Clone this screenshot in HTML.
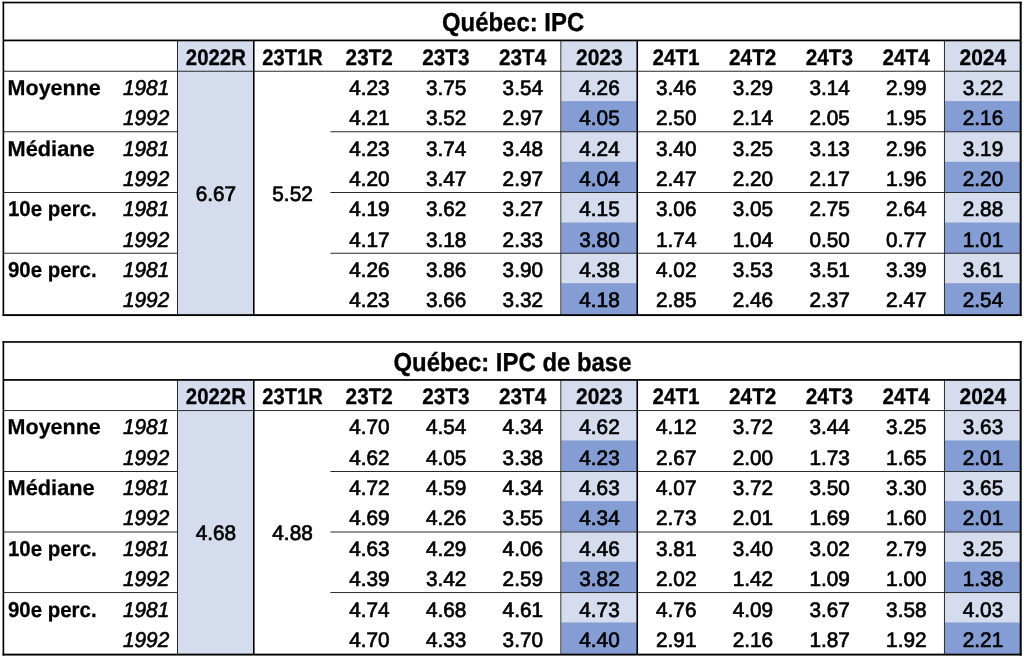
<!DOCTYPE html>
<html lang="fr"><head><meta charset="utf-8"><title>Québec: IPC</title>
<style>
html,body{margin:0;padding:0;background:#fff;}
body{width:1024px;height:658px;overflow:hidden;}
svg{display:block;will-change:transform;}
text{font-family:'Liberation Sans', sans-serif;fill:#000;text-rendering:geometricPrecision;}
.n{font-size:21.1px;text-anchor:middle;stroke:#000;stroke-width:0.7px;}
.h{font-size:22.5px;font-weight:bold;text-anchor:middle;stroke:#000;stroke-width:0.3px;}
.l{font-size:21.5px;font-weight:bold;text-anchor:start;stroke:#000;stroke-width:0.25px;}
.i{font-size:21.4px;font-style:italic;text-anchor:end;stroke:#000;stroke-width:0.62px;}
.t{font-size:26.0px;font-weight:bold;text-anchor:middle;stroke:#000;stroke-width:0.35px;}
</style></head><body>
<svg width="1024" height="658" viewBox="0 0 1024 658">
<rect x="0" y="0" width="1024" height="658" fill="#fff"/>
<g>
<rect x="177.95" y="40.43" width="76.25" height="274.02" fill="#D4DCEE"/>
<rect x="561.42" y="40.43" width="76.25" height="274.02" fill="#D4DCEE"/>
<rect x="944.9" y="40.43" width="75.8" height="274.02" fill="#D4DCEE"/>
<rect x="561.42" y="101.14" width="76.25" height="30.74" fill="#859DD5"/>
<rect x="561.42" y="161.82" width="76.25" height="30.74" fill="#859DD5"/>
<rect x="561.42" y="222.5" width="76.25" height="30.74" fill="#859DD5"/>
<rect x="561.42" y="283.18" width="76.25" height="31.27" fill="#859DD5"/>
<rect x="944.9" y="101.14" width="75.8" height="30.74" fill="#859DD5"/>
<rect x="944.9" y="161.82" width="75.8" height="30.74" fill="#859DD5"/>
<rect x="944.9" y="222.5" width="75.8" height="30.74" fill="#859DD5"/>
<rect x="944.9" y="283.18" width="75.8" height="31.27" fill="#859DD5"/>
<rect x="3.38" y="70.75" width="1017.32" height="1" fill="#2a2a2a"/>
<rect x="3.38" y="131.25" width="174.12" height="1" fill="#2a2a2a"/>
<rect x="330.39" y="131.25" width="690.31" height="1" fill="#2a2a2a"/>
<rect x="3.38" y="192" width="174.12" height="1" fill="#2a2a2a"/>
<rect x="330.39" y="192" width="690.31" height="1" fill="#2a2a2a"/>
<rect x="3.38" y="252.75" width="174.12" height="1" fill="#2a2a2a"/>
<rect x="330.39" y="252.75" width="690.31" height="1" fill="#2a2a2a"/>
<rect x="177" y="40.43" width="1" height="274.02" fill="#2a2a2a"/>
<rect x="560.35" y="40.43" width="1" height="274.02" fill="#2a2a2a"/>
<rect x="943.95" y="40.43" width="1" height="274.02" fill="#2a2a2a"/>
<rect x="252.99" y="40.43" width="1.58" height="274.02" fill="#000"/>
<rect x="636.46" y="40.43" width="1.58" height="274.02" fill="#000"/>
<rect x="3.38" y="39.56" width="1017.32" height="1.73" fill="#000"/>
<rect x="2.55" y="1.7" width="1.65" height="314.35" fill="#000"/>
<rect x="1019.7" y="1.7" width="2" height="314.35" fill="#000"/>
<rect x="2.55" y="1.7" width="1019.15" height="1.65" fill="#000"/>
<rect x="2.55" y="314.15" width="1019.15" height="1.9" fill="#000"/>
<text class="t" transform="translate(513.1,31.3) scale(0.92,1)">Québec: IPC</text>
<text class="h" transform="translate(215.85,64.8) scale(0.905,1)">2022R</text>
<text class="h" transform="translate(292.54,64.8) scale(0.894,1)">23T1R</text>
<text class="h" transform="translate(369.24,64.8) scale(0.921,1)">23T2</text>
<text class="h" transform="translate(445.93,64.8) scale(0.921,1)">23T3</text>
<text class="h" transform="translate(522.63,64.8) scale(0.921,1)">23T4</text>
<text class="h" transform="translate(599.32,64.8) scale(0.932,1)">2023</text>
<text class="h" transform="translate(676.02,64.8) scale(0.921,1)">24T1</text>
<text class="h" transform="translate(752.71,64.8) scale(0.921,1)">24T2</text>
<text class="h" transform="translate(829.41,64.8) scale(0.921,1)">24T3</text>
<text class="h" transform="translate(906.1,64.8) scale(0.921,1)">24T4</text>
<text class="h" transform="translate(982.8,64.8) scale(0.932,1)">2024</text>
<text class="l" transform="translate(7.6,95.01) scale(1,1)">Moyenne</text>
<text class="l" transform="translate(7.6,155.73) scale(1.012,1)">Médiane</text>
<text class="l" transform="translate(7.9,216.45) scale(0.953,1)">10e perc.</text>
<text class="l" transform="translate(8,277.17) scale(0.95,1)">90e perc.</text>
<text class="i" transform="translate(169.2,94.96) scale(0.972,1)">1981</text>
<text class="n" transform="translate(369.44,94.96) scale(0.985,1)">4.23</text>
<text class="n" transform="translate(446.13,94.96) scale(0.985,1)">3.75</text>
<text class="n" transform="translate(522.83,94.96) scale(0.985,1)">3.54</text>
<text class="n" transform="translate(599.52,94.96) scale(0.985,1)">4.26</text>
<text class="n" transform="translate(676.22,94.96) scale(0.985,1)">3.46</text>
<text class="n" transform="translate(752.91,94.96) scale(0.985,1)">3.29</text>
<text class="n" transform="translate(829.61,94.96) scale(0.985,1)">3.14</text>
<text class="n" transform="translate(906.3,94.96) scale(0.985,1)">2.99</text>
<text class="n" transform="translate(983,94.96) scale(0.985,1)">3.22</text>
<text class="i" transform="translate(169.2,125.32) scale(0.972,1)">1992</text>
<text class="n" transform="translate(369.44,125.32) scale(0.985,1)">4.21</text>
<text class="n" transform="translate(446.13,125.32) scale(0.985,1)">3.52</text>
<text class="n" transform="translate(522.83,125.32) scale(0.985,1)">2.97</text>
<text class="n" transform="translate(599.52,125.32) scale(0.985,1)">4.05</text>
<text class="n" transform="translate(676.22,125.32) scale(0.985,1)">2.50</text>
<text class="n" transform="translate(752.91,125.32) scale(0.985,1)">2.14</text>
<text class="n" transform="translate(829.61,125.32) scale(0.985,1)">2.05</text>
<text class="n" transform="translate(906.3,125.32) scale(0.985,1)">1.95</text>
<text class="n" transform="translate(983,125.32) scale(0.985,1)">2.16</text>
<text class="i" transform="translate(169.2,155.68) scale(0.972,1)">1981</text>
<text class="n" transform="translate(369.44,155.68) scale(0.985,1)">4.23</text>
<text class="n" transform="translate(446.13,155.68) scale(0.985,1)">3.74</text>
<text class="n" transform="translate(522.83,155.68) scale(0.985,1)">3.48</text>
<text class="n" transform="translate(599.52,155.68) scale(0.985,1)">4.24</text>
<text class="n" transform="translate(676.22,155.68) scale(0.985,1)">3.40</text>
<text class="n" transform="translate(752.91,155.68) scale(0.985,1)">3.25</text>
<text class="n" transform="translate(829.61,155.68) scale(0.985,1)">3.13</text>
<text class="n" transform="translate(906.3,155.68) scale(0.985,1)">2.96</text>
<text class="n" transform="translate(983,155.68) scale(0.985,1)">3.19</text>
<text class="i" transform="translate(169.2,186.04) scale(0.972,1)">1992</text>
<text class="n" transform="translate(369.44,186.04) scale(0.985,1)">4.20</text>
<text class="n" transform="translate(446.13,186.04) scale(0.985,1)">3.47</text>
<text class="n" transform="translate(522.83,186.04) scale(0.985,1)">2.97</text>
<text class="n" transform="translate(599.52,186.04) scale(0.985,1)">4.04</text>
<text class="n" transform="translate(676.22,186.04) scale(0.985,1)">2.47</text>
<text class="n" transform="translate(752.91,186.04) scale(0.985,1)">2.20</text>
<text class="n" transform="translate(829.61,186.04) scale(0.985,1)">2.17</text>
<text class="n" transform="translate(906.3,186.04) scale(0.985,1)">1.96</text>
<text class="n" transform="translate(983,186.04) scale(0.985,1)">2.20</text>
<text class="i" transform="translate(169.2,216.4) scale(0.972,1)">1981</text>
<text class="n" transform="translate(369.44,216.4) scale(0.985,1)">4.19</text>
<text class="n" transform="translate(446.13,216.4) scale(0.985,1)">3.62</text>
<text class="n" transform="translate(522.83,216.4) scale(0.985,1)">3.27</text>
<text class="n" transform="translate(599.52,216.4) scale(0.985,1)">4.15</text>
<text class="n" transform="translate(676.22,216.4) scale(0.985,1)">3.06</text>
<text class="n" transform="translate(752.91,216.4) scale(0.985,1)">3.05</text>
<text class="n" transform="translate(829.61,216.4) scale(0.985,1)">2.75</text>
<text class="n" transform="translate(906.3,216.4) scale(0.985,1)">2.64</text>
<text class="n" transform="translate(983,216.4) scale(0.985,1)">2.88</text>
<text class="i" transform="translate(169.2,246.76) scale(0.972,1)">1992</text>
<text class="n" transform="translate(369.44,246.76) scale(0.985,1)">4.17</text>
<text class="n" transform="translate(446.13,246.76) scale(0.985,1)">3.18</text>
<text class="n" transform="translate(522.83,246.76) scale(0.985,1)">2.33</text>
<text class="n" transform="translate(599.52,246.76) scale(0.985,1)">3.80</text>
<text class="n" transform="translate(676.22,246.76) scale(0.985,1)">1.74</text>
<text class="n" transform="translate(752.91,246.76) scale(0.985,1)">1.04</text>
<text class="n" transform="translate(829.61,246.76) scale(0.985,1)">0.50</text>
<text class="n" transform="translate(906.3,246.76) scale(0.985,1)">0.77</text>
<text class="n" transform="translate(983,246.76) scale(0.985,1)">1.01</text>
<text class="i" transform="translate(169.2,277.12) scale(0.972,1)">1981</text>
<text class="n" transform="translate(369.44,277.12) scale(0.985,1)">4.26</text>
<text class="n" transform="translate(446.13,277.12) scale(0.985,1)">3.86</text>
<text class="n" transform="translate(522.83,277.12) scale(0.985,1)">3.90</text>
<text class="n" transform="translate(599.52,277.12) scale(0.985,1)">4.38</text>
<text class="n" transform="translate(676.22,277.12) scale(0.985,1)">4.02</text>
<text class="n" transform="translate(752.91,277.12) scale(0.985,1)">3.53</text>
<text class="n" transform="translate(829.61,277.12) scale(0.985,1)">3.51</text>
<text class="n" transform="translate(906.3,277.12) scale(0.985,1)">3.39</text>
<text class="n" transform="translate(983,277.12) scale(0.985,1)">3.61</text>
<text class="i" transform="translate(169.2,307.48) scale(0.972,1)">1992</text>
<text class="n" transform="translate(369.44,307.48) scale(0.985,1)">4.23</text>
<text class="n" transform="translate(446.13,307.48) scale(0.985,1)">3.66</text>
<text class="n" transform="translate(522.83,307.48) scale(0.985,1)">3.32</text>
<text class="n" transform="translate(599.52,307.48) scale(0.985,1)">4.18</text>
<text class="n" transform="translate(676.22,307.48) scale(0.985,1)">2.85</text>
<text class="n" transform="translate(752.91,307.48) scale(0.985,1)">2.46</text>
<text class="n" transform="translate(829.61,307.48) scale(0.985,1)">2.37</text>
<text class="n" transform="translate(906.3,307.48) scale(0.985,1)">2.47</text>
<text class="n" transform="translate(983,307.48) scale(0.985,1)">2.54</text>
<text class="n" transform="translate(215.85,200.79) scale(0.985,1)">6.67</text>
<text class="n" transform="translate(292.54,200.79) scale(0.985,1)">5.52</text>
</g>
<g>
<rect x="177.95" y="379.92" width="76.25" height="274.03" fill="#D4DCEE"/>
<rect x="561.42" y="379.92" width="76.25" height="274.03" fill="#D4DCEE"/>
<rect x="944.9" y="379.92" width="75.8" height="274.03" fill="#D4DCEE"/>
<rect x="561.42" y="440.44" width="76.25" height="30.74" fill="#859DD5"/>
<rect x="561.42" y="501.12" width="76.25" height="30.74" fill="#859DD5"/>
<rect x="561.42" y="561.8" width="76.25" height="30.74" fill="#859DD5"/>
<rect x="561.42" y="622.48" width="76.25" height="31.47" fill="#859DD5"/>
<rect x="944.9" y="440.44" width="75.8" height="30.74" fill="#859DD5"/>
<rect x="944.9" y="501.12" width="75.8" height="30.74" fill="#859DD5"/>
<rect x="944.9" y="561.8" width="75.8" height="30.74" fill="#859DD5"/>
<rect x="944.9" y="622.48" width="75.8" height="31.47" fill="#859DD5"/>
<rect x="3.38" y="410.05" width="1017.32" height="1" fill="#2a2a2a"/>
<rect x="3.38" y="471" width="174.12" height="1" fill="#2a2a2a"/>
<rect x="330.39" y="471" width="690.31" height="1" fill="#2a2a2a"/>
<rect x="3.38" y="531.5" width="174.12" height="1" fill="#2a2a2a"/>
<rect x="330.39" y="531.5" width="690.31" height="1" fill="#2a2a2a"/>
<rect x="3.38" y="592.05" width="174.12" height="1" fill="#2a2a2a"/>
<rect x="330.39" y="592.05" width="690.31" height="1" fill="#2a2a2a"/>
<rect x="177" y="379.92" width="1" height="274.03" fill="#2a2a2a"/>
<rect x="560.35" y="379.92" width="1" height="274.03" fill="#2a2a2a"/>
<rect x="943.95" y="379.92" width="1" height="274.03" fill="#2a2a2a"/>
<rect x="252.99" y="379.92" width="1.58" height="274.03" fill="#000"/>
<rect x="636.46" y="379.92" width="1.58" height="274.03" fill="#000"/>
<rect x="3.38" y="379.06" width="1017.32" height="1.73" fill="#000"/>
<rect x="2.55" y="341.13" width="1.65" height="314.42" fill="#000"/>
<rect x="1019.7" y="341.13" width="2" height="314.42" fill="#000"/>
<rect x="2.55" y="341.12" width="1019.15" height="1.65" fill="#000"/>
<rect x="2.55" y="653.65" width="1019.15" height="1.9" fill="#000"/>
<text class="t" transform="translate(512.5,370.75) scale(0.92,1)">Québec: IPC de base</text>
<text class="h" transform="translate(215.85,404.25) scale(0.905,1)">2022R</text>
<text class="h" transform="translate(292.54,404.25) scale(0.894,1)">23T1R</text>
<text class="h" transform="translate(369.24,404.25) scale(0.921,1)">23T2</text>
<text class="h" transform="translate(445.93,404.25) scale(0.921,1)">23T3</text>
<text class="h" transform="translate(522.63,404.25) scale(0.921,1)">23T4</text>
<text class="h" transform="translate(599.32,404.25) scale(0.932,1)">2023</text>
<text class="h" transform="translate(676.02,404.25) scale(0.921,1)">24T1</text>
<text class="h" transform="translate(752.71,404.25) scale(0.921,1)">24T2</text>
<text class="h" transform="translate(829.41,404.25) scale(0.921,1)">24T3</text>
<text class="h" transform="translate(906.1,404.25) scale(0.921,1)">24T4</text>
<text class="h" transform="translate(982.8,404.25) scale(0.932,1)">2024</text>
<text class="l" transform="translate(7.6,434.46) scale(1,1)">Moyenne</text>
<text class="l" transform="translate(7.6,495.18) scale(1.012,1)">Médiane</text>
<text class="l" transform="translate(7.9,555.9) scale(0.953,1)">10e perc.</text>
<text class="l" transform="translate(8,616.62) scale(0.95,1)">90e perc.</text>
<text class="i" transform="translate(169.2,434.41) scale(0.972,1)">1981</text>
<text class="n" transform="translate(369.44,434.41) scale(0.985,1)">4.70</text>
<text class="n" transform="translate(446.13,434.41) scale(0.985,1)">4.54</text>
<text class="n" transform="translate(522.83,434.41) scale(0.985,1)">4.34</text>
<text class="n" transform="translate(599.52,434.41) scale(0.985,1)">4.62</text>
<text class="n" transform="translate(676.22,434.41) scale(0.985,1)">4.12</text>
<text class="n" transform="translate(752.91,434.41) scale(0.985,1)">3.72</text>
<text class="n" transform="translate(829.61,434.41) scale(0.985,1)">3.44</text>
<text class="n" transform="translate(906.3,434.41) scale(0.985,1)">3.25</text>
<text class="n" transform="translate(983,434.41) scale(0.985,1)">3.63</text>
<text class="i" transform="translate(169.2,464.77) scale(0.972,1)">1992</text>
<text class="n" transform="translate(369.44,464.77) scale(0.985,1)">4.62</text>
<text class="n" transform="translate(446.13,464.77) scale(0.985,1)">4.05</text>
<text class="n" transform="translate(522.83,464.77) scale(0.985,1)">3.38</text>
<text class="n" transform="translate(599.52,464.77) scale(0.985,1)">4.23</text>
<text class="n" transform="translate(676.22,464.77) scale(0.985,1)">2.67</text>
<text class="n" transform="translate(752.91,464.77) scale(0.985,1)">2.00</text>
<text class="n" transform="translate(829.61,464.77) scale(0.985,1)">1.73</text>
<text class="n" transform="translate(906.3,464.77) scale(0.985,1)">1.65</text>
<text class="n" transform="translate(983,464.77) scale(0.985,1)">2.01</text>
<text class="i" transform="translate(169.2,495.13) scale(0.972,1)">1981</text>
<text class="n" transform="translate(369.44,495.13) scale(0.985,1)">4.72</text>
<text class="n" transform="translate(446.13,495.13) scale(0.985,1)">4.59</text>
<text class="n" transform="translate(522.83,495.13) scale(0.985,1)">4.34</text>
<text class="n" transform="translate(599.52,495.13) scale(0.985,1)">4.63</text>
<text class="n" transform="translate(676.22,495.13) scale(0.985,1)">4.07</text>
<text class="n" transform="translate(752.91,495.13) scale(0.985,1)">3.72</text>
<text class="n" transform="translate(829.61,495.13) scale(0.985,1)">3.50</text>
<text class="n" transform="translate(906.3,495.13) scale(0.985,1)">3.30</text>
<text class="n" transform="translate(983,495.13) scale(0.985,1)">3.65</text>
<text class="i" transform="translate(169.2,525.49) scale(0.972,1)">1992</text>
<text class="n" transform="translate(369.44,525.49) scale(0.985,1)">4.69</text>
<text class="n" transform="translate(446.13,525.49) scale(0.985,1)">4.26</text>
<text class="n" transform="translate(522.83,525.49) scale(0.985,1)">3.55</text>
<text class="n" transform="translate(599.52,525.49) scale(0.985,1)">4.34</text>
<text class="n" transform="translate(676.22,525.49) scale(0.985,1)">2.73</text>
<text class="n" transform="translate(752.91,525.49) scale(0.985,1)">2.01</text>
<text class="n" transform="translate(829.61,525.49) scale(0.985,1)">1.69</text>
<text class="n" transform="translate(906.3,525.49) scale(0.985,1)">1.60</text>
<text class="n" transform="translate(983,525.49) scale(0.985,1)">2.01</text>
<text class="i" transform="translate(169.2,555.85) scale(0.972,1)">1981</text>
<text class="n" transform="translate(369.44,555.85) scale(0.985,1)">4.63</text>
<text class="n" transform="translate(446.13,555.85) scale(0.985,1)">4.29</text>
<text class="n" transform="translate(522.83,555.85) scale(0.985,1)">4.06</text>
<text class="n" transform="translate(599.52,555.85) scale(0.985,1)">4.46</text>
<text class="n" transform="translate(676.22,555.85) scale(0.985,1)">3.81</text>
<text class="n" transform="translate(752.91,555.85) scale(0.985,1)">3.40</text>
<text class="n" transform="translate(829.61,555.85) scale(0.985,1)">3.02</text>
<text class="n" transform="translate(906.3,555.85) scale(0.985,1)">2.79</text>
<text class="n" transform="translate(983,555.85) scale(0.985,1)">3.25</text>
<text class="i" transform="translate(169.2,586.21) scale(0.972,1)">1992</text>
<text class="n" transform="translate(369.44,586.21) scale(0.985,1)">4.39</text>
<text class="n" transform="translate(446.13,586.21) scale(0.985,1)">3.42</text>
<text class="n" transform="translate(522.83,586.21) scale(0.985,1)">2.59</text>
<text class="n" transform="translate(599.52,586.21) scale(0.985,1)">3.82</text>
<text class="n" transform="translate(676.22,586.21) scale(0.985,1)">2.02</text>
<text class="n" transform="translate(752.91,586.21) scale(0.985,1)">1.42</text>
<text class="n" transform="translate(829.61,586.21) scale(0.985,1)">1.09</text>
<text class="n" transform="translate(906.3,586.21) scale(0.985,1)">1.00</text>
<text class="n" transform="translate(983,586.21) scale(0.985,1)">1.38</text>
<text class="i" transform="translate(169.2,616.57) scale(0.972,1)">1981</text>
<text class="n" transform="translate(369.44,616.57) scale(0.985,1)">4.74</text>
<text class="n" transform="translate(446.13,616.57) scale(0.985,1)">4.68</text>
<text class="n" transform="translate(522.83,616.57) scale(0.985,1)">4.61</text>
<text class="n" transform="translate(599.52,616.57) scale(0.985,1)">4.73</text>
<text class="n" transform="translate(676.22,616.57) scale(0.985,1)">4.76</text>
<text class="n" transform="translate(752.91,616.57) scale(0.985,1)">4.09</text>
<text class="n" transform="translate(829.61,616.57) scale(0.985,1)">3.67</text>
<text class="n" transform="translate(906.3,616.57) scale(0.985,1)">3.58</text>
<text class="n" transform="translate(983,616.57) scale(0.985,1)">4.03</text>
<text class="i" transform="translate(169.2,646.93) scale(0.972,1)">1992</text>
<text class="n" transform="translate(369.44,646.93) scale(0.985,1)">4.70</text>
<text class="n" transform="translate(446.13,646.93) scale(0.985,1)">4.33</text>
<text class="n" transform="translate(522.83,646.93) scale(0.985,1)">3.70</text>
<text class="n" transform="translate(599.52,646.93) scale(0.985,1)">4.40</text>
<text class="n" transform="translate(676.22,646.93) scale(0.985,1)">2.91</text>
<text class="n" transform="translate(752.91,646.93) scale(0.985,1)">2.16</text>
<text class="n" transform="translate(829.61,646.93) scale(0.985,1)">1.87</text>
<text class="n" transform="translate(906.3,646.93) scale(0.985,1)">1.92</text>
<text class="n" transform="translate(983,646.93) scale(0.985,1)">2.21</text>
<text class="n" transform="translate(215.85,540.24) scale(0.985,1)">4.68</text>
<text class="n" transform="translate(292.54,540.24) scale(0.985,1)">4.88</text>
</g>
</svg></body></html>
